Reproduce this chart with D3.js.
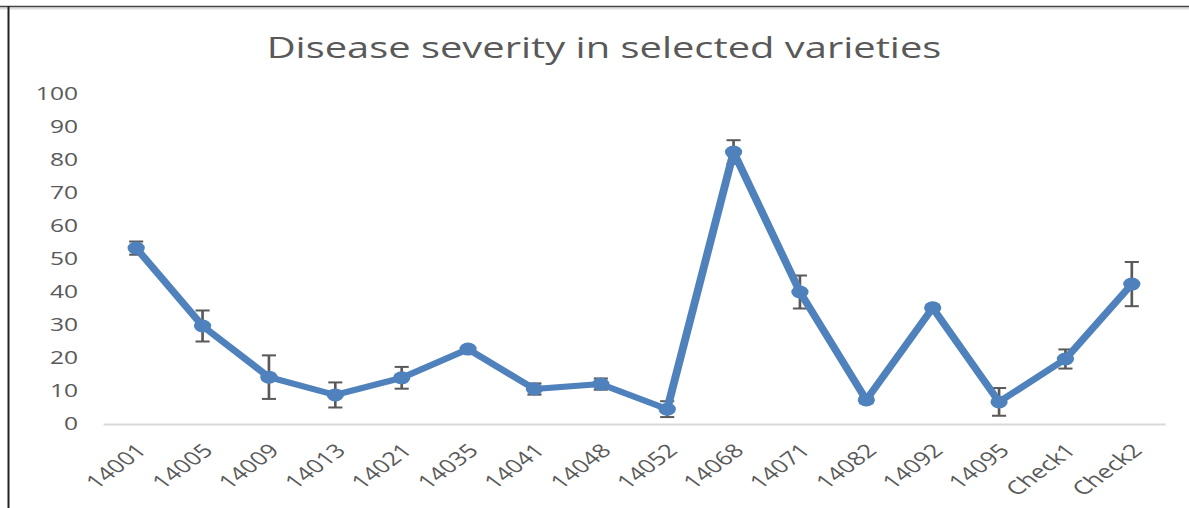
<!DOCTYPE html>
<html>
<head>
<meta charset="utf-8">
<script src="https://cdn.jsdelivr.net/npm/d3@7"></script>
<style>
  html, body { margin: 0; padding: 0; background: #fff; }
  svg { display: block; }
  text { font-family: "Open Sans", sans-serif; fill: #595959; }
</style>
</head>
<body>
<svg width="1189" height="508"></svg>
<script>
// ### Data
var varieties = ["14001", "14005", "14009", "14013", "14021", "14035", "14041", "14048",
                 "14052", "14068", "14071", "14082", "14092", "14095", "Check1", "Check2"];
var severity = [53.3, 29.7, 14.2, 8.8, 14.0, 22.7, 10.6, 12.1, 4.5, 82.4, 40.0, 7.3, 35.2, 6.7, 19.7, 42.4];
var stdError = [2.0, 4.7, 6.6, 3.8, 3.3, 0.6, 1.7, 1.7, 2.4, 3.6, 5.0, 1.0, 0.8, 4.2, 2.9, 6.7];
var yTicks = [0, 10, 20, 30, 40, 50, 60, 70, 80, 90, 100];
var title = "Disease severity in selected varieties";

var data = varieties.map(function(v, i) {
  return { name: v, value: severity[i], err: stdError[i] };
});

/**
 * svg set up - the original picture is stretched sideways,
 * so the chart is drawn in a narrower space and scaled on x
 */
var svg = d3.select("svg"),
    width = 1189,
    height = 508,
    sx = 1.33;

var lineColor = "#4f81bd";

// frame
svg.append("line").attr("x1", 0).attr("x2", width).attr("y1", 8.5).attr("y2", 8.5)
   .attr("stroke", "#dedede").attr("stroke-width", 2);
svg.append("line").attr("x1", 0).attr("x2", width).attr("y1", 6.5).attr("y2", 6.5)
   .attr("stroke", "#444").attr("stroke-width", 1.5);
svg.append("line").attr("x1", 8.5).attr("x2", 8.5).attr("y1", 6).attr("y2", height)
   .attr("stroke", "#222").attr("stroke-width", 2);

var g = svg.append("g")
    .attr("transform", "scale(" + sx + ",1)");

var x = d3.scaleBand()
    .domain(varieties)
    .range([103 / sx, 1165 / sx])
    .padding(0);

var y = d3.scaleLinear()
    .domain([0, 100])
    .range([424, 94]);

// title
g.append("text")
    .attr("x", 604 / sx)
    .attr("y", 58)
    .attr("text-anchor", "middle")
    .style("font-size", "30px")
    .text(title);

// y axis labels
var yAxis = g.append("g")
    .attr("transform", "translate(" + (78 / sx) + ",0)")
    .call(d3.axisLeft(y).tickValues(yTicks).tickSize(0).tickPadding(0));
yAxis.select(".domain").remove();
yAxis.selectAll("text")
    .style("font-size", "18.5px")
    .attr("fill", "#595959")
    .attr("font-family", null);

// x axis
var xAxis = g.append("g")
    .attr("transform", "translate(0," + y(0) + ")")
    .call(d3.axisBottom(x).tickSize(0).tickPadding(0));
xAxis.select(".domain")
    .attr("stroke", "#d9d9d9")
    .attr("stroke-width", 2);
xAxis.selectAll("text")
    .style("font-size", "19px")
    .attr("fill", "#595959")
    .attr("font-family", null)
    .attr("text-anchor", "end")
    .attr("dy", "0.35em")
    .attr("transform", "translate(4,23) rotate(-45)");

// ### Error bars
var cx = function(d) { return x(d.name) + x.bandwidth() / 2; };
var cap = 5.3;
var bars = g.append("g").attr("class", "errors")
  .selectAll("g")
  .data(data)
  .enter().append("g")
    .attr("stroke", "#595959")
    .attr("stroke-width", 2);
bars.append("line")
    .attr("x1", cx).attr("x2", cx)
    .attr("y1", function(d) { return y(d.value + d.err); })
    .attr("y2", function(d) { return y(d.value - d.err); });
bars.append("line")
    .attr("x1", function(d) { return cx(d) - cap; })
    .attr("x2", function(d) { return cx(d) + cap; })
    .attr("y1", function(d) { return y(d.value + d.err); })
    .attr("y2", function(d) { return y(d.value + d.err); });
bars.append("line")
    .attr("x1", function(d) { return cx(d) - cap; })
    .attr("x2", function(d) { return cx(d) + cap; })
    .attr("y1", function(d) { return y(d.value - d.err); })
    .attr("y2", function(d) { return y(d.value - d.err); });

// ### Line + markers
var line = d3.line()
    .x(cx)
    .y(function(d) { return y(d.value); });

g.append("path")
    .datum(data)
    .attr("fill", "none")
    .attr("stroke", lineColor)
    .attr("stroke-width", 6)
    .attr("stroke-linejoin", "round")
    .attr("d", line);

g.append("g").attr("class", "markers")
  .selectAll("circle")
  .data(data)
  .enter().append("circle")
    .attr("cx", cx)
    .attr("cy", function(d) { return y(d.value); })
    .attr("r", 6.5)
    .attr("fill", lineColor);
</script>
</body>
</html>
